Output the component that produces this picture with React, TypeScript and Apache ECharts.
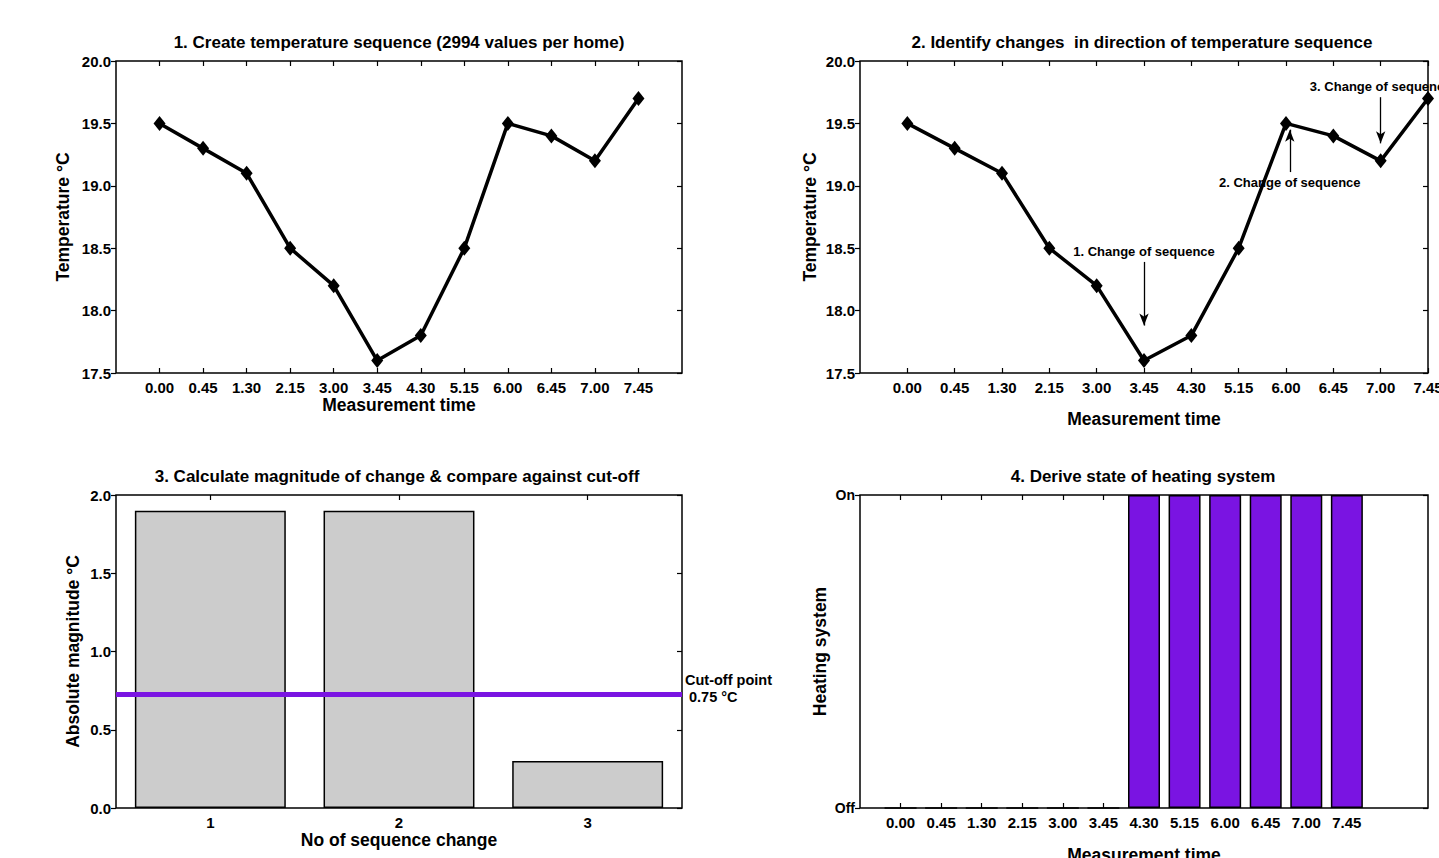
import React, { useEffect, useRef } from "react";
import * as echarts from "echarts";

// ---- data ----
const times = ["0.00", "0.45", "1.30", "2.15", "3.00", "3.45", "4.30", "5.15", "6.00", "6.45", "7.00", "7.45"];
const temps = [19.5, 19.3, 19.1, 18.5, 18.2, 17.6, 17.8, 18.5, 19.5, 19.4, 19.2, 19.7];
const changeNo = ["1", "2", "3"];
const magnitudes = [1.9, 1.9, 0.3];
const cutoffValue = 0.735;
const cutoffLabel = "Cut-off point\n 0.75 °C";
const heating = [0, 0, 0, 0, 0, 0, 1, 1, 1, 1, 1, 1];
const stateLabels = ["Off", "On"];
const annotations = [
  { name: "1. Change of sequence", x: 5, from: 18.39, to: 17.88 },
  { name: "2. Change of sequence", x: 8.08, from: 19.11, to: 19.45 },
  { name: "3. Change of sequence", x: 10, from: 19.71, to: 19.34 },
];
const titles = [
  "1. Create temperature sequence (2994 values per home)",
  "2. Identify changes  in direction of temperature sequence",
  "3. Calculate magnitude of change & compare against cut-off",
  "4. Derive state of heating system",
];

const FONT = "'Liberation Sans', Arial, Helvetica, sans-serif";
const PURPLE = "#7A14E2";
const idx = times.map((_, i) => i);

const lbl = (extra: any = {}) => ({
  fontFamily: FONT,
  fontWeight: "bold",
  fontSize: 15,
  color: "#000",
  ...extra,
});
const nameStyle = { fontFamily: FONT, fontWeight: "bold", fontSize: 17.5, color: "#000" };
const tickStyle = { color: "#000", width: 1.2 };

function App() {
  const ref = useRef<HTMLDivElement>(null);
  useEffect(() => {
    if (!ref.current) return;
    const chart = echarts.init(ref.current, null, { renderer: "svg" });

    const grids = [
      { left: 116, top: 61, width: 566, height: 312 },
      { left: 860, top: 61, width: 568, height: 312 },
      { left: 116, top: 495, width: 566, height: 313 },
      { left: 860, top: 495, width: 568, height: 313 },
    ].map((g) => ({
      ...g,
      show: true,
      borderColor: "#000",
      borderWidth: 1.5,
      backgroundColor: "transparent",
      containLabel: false,
      outerBoundsMode: "none",
    }));

    const timeAxis = (grid: number, min: number, max: number, name: string, nameGap: number, labels: boolean, position: string) => ({
      type: "value",
      gridIndex: grid,
      position,
      min,
      max,
      interval: 1,
      name: labels ? name : "",
      nameLocation: "middle",
      nameGap,
      nameTextStyle: nameStyle,
      axisLine: { show: false, onZero: false },
      splitLine: { show: false },
      axisTick: { show: true, inside: true, length: 5, customValues: idx, lineStyle: tickStyle },
      axisLabel: labels
        ? lbl({ customValues: idx, formatter: (v: number) => times[v] ?? "", margin: 7 })
        : { show: false },
    });

    const valAxis = (grid: number, min: number, max: number, interval: number, name: string, nameGap: number, left: boolean, fmt: (v: number) => string, fontSize = 15) => ({
      type: "value",
      gridIndex: grid,
      position: left ? "left" : "right",
      min,
      max,
      interval,
      name: left ? name : "",
      nameLocation: "middle",
      nameGap,
      nameTextStyle: nameStyle,
      axisLine: { show: false, onZero: false },
      splitLine: { show: false },
      axisTick: { show: true, inside: !left, length: 5, lineStyle: tickStyle },
      axisLabel: left ? lbl({ formatter: fmt, margin: 5, fontSize }) : { show: false },
    });

    const catAxis = (grid: number, labels: boolean, position: string) => ({
      type: "category",
      gridIndex: grid,
      position,
      data: changeNo,
      boundaryGap: true,
      name: labels ? "No of sequence change" : "",
      nameLocation: "middle",
      nameGap: 22,
      nameTextStyle: nameStyle,
      axisLine: { show: false, onZero: false },
      splitLine: { show: false },
      axisTick: { show: true, inside: true, length: 5, alignWithLabel: true, lineStyle: tickStyle },
      axisLabel: labels ? lbl({ margin: 7 }) : { show: false },
    });

    const f1 = (v: number) => v.toFixed(1);

    const option: any = {
      animation: false,
      backgroundColor: "#fff",
      grid: grids,
      xAxis: [
        timeAxis(0, -1, 12, "Measurement time", 23, true, "bottom"),
        timeAxis(0, -1, 12, "", 0, false, "top"),
        timeAxis(1, -1, 11, "Measurement time", 37, true, "bottom"),
        timeAxis(1, -1, 11, "", 0, false, "top"),
        catAxis(2, true, "bottom"),
        catAxis(2, false, "top"),
        timeAxis(3, -1, 13, "Measurement time", 38, true, "bottom"),
        timeAxis(3, -1, 13, "", 0, false, "top"),
      ],
      yAxis: [
        valAxis(0, 17.5, 20, 0.5, "Temperature °C", 44, true, f1),
        valAxis(0, 17.5, 20, 0.5, "", 0, false, f1),
        valAxis(1, 17.5, 20, 0.5, "Temperature °C", 41, true, f1),
        valAxis(1, 17.5, 20, 0.5, "", 0, false, f1),
        valAxis(2, 0, 2, 0.5, "Absolute magnitude °C", 34, true, f1),
        valAxis(2, 0, 2, 0.5, "", 0, false, f1),
        valAxis(3, 0, 1, 1, "Heating system", 31, true, (v: number) => stateLabels[v] ?? "", 14),
        valAxis(3, 0, 1, 1, "", 0, false, (v: number) => stateLabels[v] ?? ""),
      ],
      graphic: titles.map((t, i) => ({
        type: "text",
        x: [399, 1142, 397, 1143][i],
        y: [42, 42, 476, 476][i],
        style: {
          text: t,
          fill: "#000",
          font: `bold 17px ${FONT}`,
          align: "center",
          verticalAlign: "middle",
          textAlign: "center",
          textVerticalAlign: "middle",
        },
      })),
      series: [
        {
          type: "line",
          xAxisIndex: 0,
          yAxisIndex: 0,
          data: temps.map((v, i) => [i, v]),
          lineStyle: { color: "#000", width: 3.5 },
          itemStyle: { color: "#000" },
          symbol: "diamond",
          symbolSize: [12, 15],
          clip: false,
        },
        {
          type: "line",
          xAxisIndex: 2,
          yAxisIndex: 2,
          data: temps.map((v, i) => [i, v]),
          lineStyle: { color: "#000", width: 3.5 },
          itemStyle: { color: "#000" },
          symbol: "diamond",
          symbolSize: [12, 15],
          clip: false,
          markLine: {
            silent: true,
            symbol: ["none", "arrow"],
            symbolSize: [7, 12],
            lineStyle: { color: "#000", width: 1.3, type: "solid" },
            label: {
              show: true,
              position: "start",
              formatter: "{b}",
              fontFamily: FONT,
              fontWeight: "bold",
              fontSize: 13,
              color: "#000",
              distance: 4,
            },
            data: annotations.map((a) => [
              { name: a.name, coord: [a.x, a.from] },
              { coord: [a.x, a.to] },
            ]),
          },
        },
        {
          type: "bar",
          xAxisIndex: 4,
          yAxisIndex: 4,
          data: magnitudes,
          barWidth: "80%",
          itemStyle: { color: "#CCCCCC", borderColor: "#000", borderWidth: 1.5 },
          markLine: {
            silent: true,
            symbol: ["none", "none"],
            lineStyle: { color: PURPLE, width: 5, type: "solid" },
            label: {
              show: true,
              position: "end",
              formatter: cutoffLabel,
              fontFamily: FONT,
              fontWeight: "bold",
              fontSize: 14.5,
              lineHeight: 17,
              color: "#000",
              align: "left",
              distance: 3,
              offset: [0, -5],
            },
            data: [{ yAxis: cutoffValue }],
          },
        },
        {
          type: "bar",
          xAxisIndex: 6,
          yAxisIndex: 6,
          data: heating.map((v, i) => [i, v]),
          barWidth: 32,
          itemStyle: { color: PURPLE, borderColor: "#000", borderWidth: 1.5 },
        },
      ],
    };

    chart.setOption(option);
    return () => chart.dispose();
  }, []);

  return (
    <div
      ref={ref}
      style={{ position: "fixed", left: 0, top: 0, width: 1439, height: 858, background: "#fff" }}
    />
  );
}

export default App;
